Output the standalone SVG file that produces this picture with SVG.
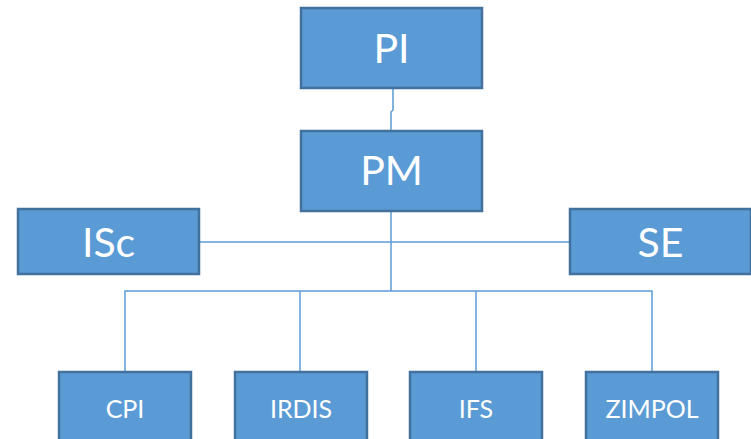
<svg xmlns="http://www.w3.org/2000/svg" width="751" height="439" viewBox="0 0 751 439">
  <style>
    .box { fill: #5b9bd5; stroke: #41719c; stroke-width: 2.5; }
    .lbl { fill: #ffffff; font-family: Lato, "Liberation Sans", sans-serif; text-anchor: middle; }
    .big { font-size: 41px; }
    .small { font-size: 25px; }
    .link { fill: none; stroke: #5b9bd5; stroke-width: 1.5; }
  </style>
  <rect width="751" height="439" fill="#ffffff"/>

  <g id="connectors">
    <path class="link" d="M393 88 V110 L391 112 V130"/>
    <path class="link" d="M391 211 V291"/>
    <path class="link" d="M199 242 H570"/>
    <path class="link" d="M125 372 V291 H652 V372"/>
    <path class="link" d="M300 291 V372"/>
    <path class="link" d="M476 291 V372"/>
  </g>

  <g id="node-PI">
    <rect class="box" x="301" y="8" width="181" height="80"/>
    <text class="lbl big" x="391.5" y="63">PI</text>
  </g>
  <g id="node-PM">
    <rect class="box" x="301" y="131" width="181" height="80"/>
    <text class="lbl big" x="391.5" y="185">PM</text>
  </g>
  <g id="node-ISc">
    <rect class="box" x="18" y="209" width="181" height="65"/>
    <text class="lbl big" x="108.5" y="257">ISc</text>
  </g>
  <g id="node-SE">
    <rect class="box" x="570" y="209" width="181" height="65"/>
    <text class="lbl big" x="660.5" y="257">SE</text>
  </g>
  <g id="node-CPI">
    <rect class="box" x="59" y="372" width="132" height="72"/>
    <text class="lbl small" x="125" y="418">CPI</text>
  </g>
  <g id="node-IRDIS">
    <rect class="box" x="235" y="372" width="132" height="72"/>
    <text class="lbl small" x="301" y="418">IRDIS</text>
  </g>
  <g id="node-IFS">
    <rect class="box" x="410" y="372" width="132" height="72"/>
    <text class="lbl small" x="476" y="418">IFS</text>
  </g>
  <g id="node-ZIMPOL">
    <rect class="box" x="586" y="372" width="132" height="72"/>
    <text class="lbl small" x="652" y="418">ZIMPOL</text>
  </g>
</svg>
